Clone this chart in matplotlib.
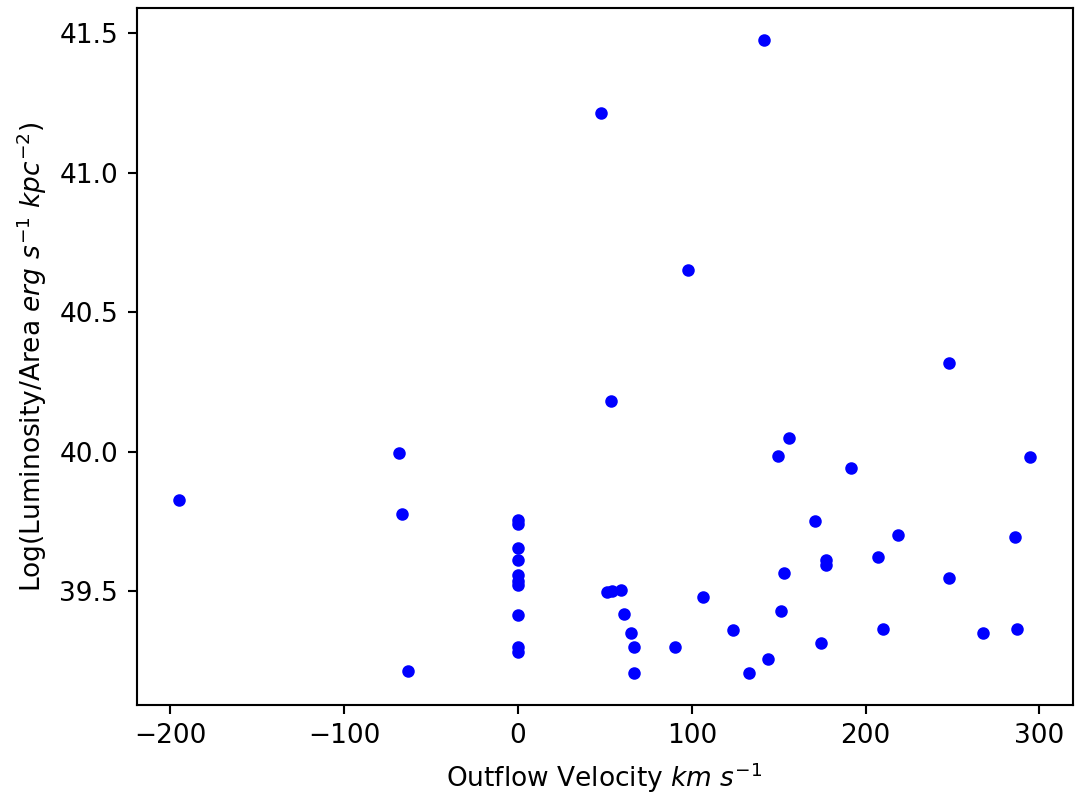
import matplotlib
matplotlib.use("Agg")
import matplotlib.pyplot as plt

# outflow velocity (km/s) and log luminosity per area
velocity = [-195, -68.4, -66.7, -63.2,
            0, 0, 0, 0, 0, 0, 0, 0, 0, 0,
            47.7, 53.4, 97.7, 141.4,
            51.0, 54.0, 59.0, 61.1, 65.3, 66.7, 66.7, 90.2, 106.7, 123.8,
            143.9, 132.8, 151.3, 153.3,
            149.4, 155.7, 170.7, 174.1, 177.0, 177.0, 191.4, 206.9, 209.8,
            218.4, 248.3, 248.3, 267.8, 286.2, 287.4, 294.8]
log_lum = [39.826, 39.995, 39.776, 39.213,
           39.755, 39.74, 39.653, 39.611, 39.556, 39.537, 39.52, 39.413, 39.3, 39.28,
           41.215, 40.18, 40.65, 41.477,
           39.497, 39.5, 39.503, 39.416, 39.348, 39.3, 39.205, 39.3, 39.477, 39.36,
           39.255, 39.205, 39.428, 39.563,
           39.984, 40.048, 39.751, 39.314, 39.611, 39.593, 39.941, 39.622, 39.364,
           39.70, 40.317, 39.547, 39.35, 39.694, 39.364, 39.98]

dpi = 190
fig = plt.figure(figsize=(1075 / dpi, 797 / dpi), dpi=dpi)
ax = fig.add_subplot(111)
fig.subplots_adjust(left=0.127, right=0.998, top=0.99, bottom=0.1154)

ax.scatter(velocity, log_lum, color='blue', s=14)
ax.set_xlabel(r"Outflow Velocity $km\ s^{-1}$")
ax.set_ylabel(r"Log(Luminosity/Area $erg\ s^{-1}\ kpc^{-2}$)")

fig.savefig("out.png", dpi=dpi)
